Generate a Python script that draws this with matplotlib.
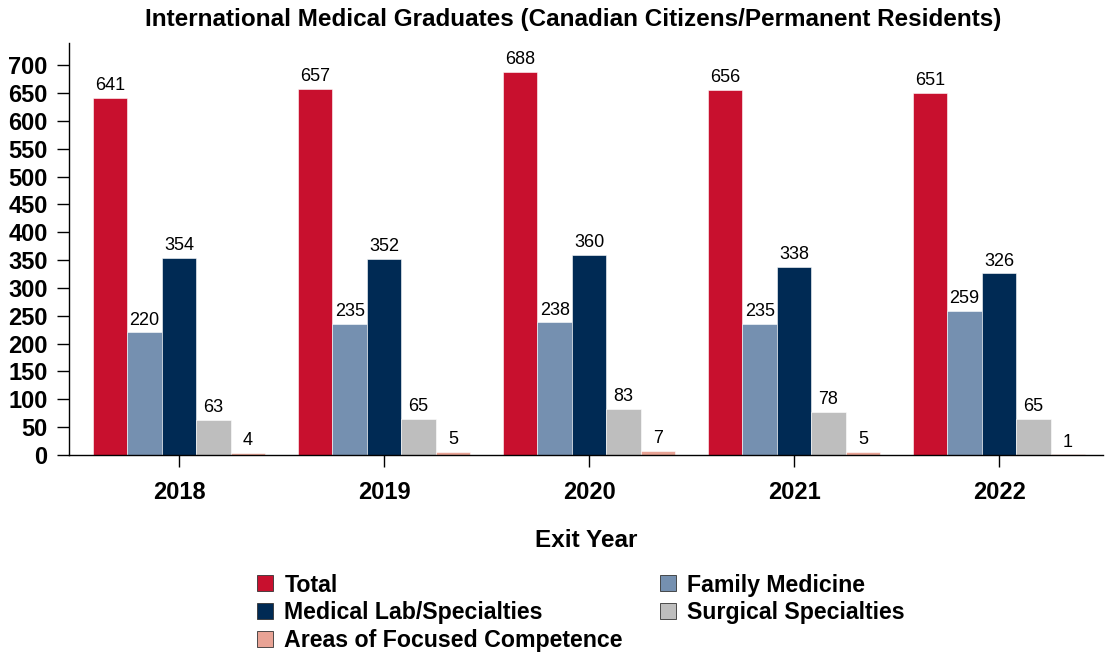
import matplotlib.pyplot as plt
from matplotlib.patches import Patch
import numpy as np

plt.rcParams['font.family'] = ['Liberation Sans', 'DejaVu Sans']

years = ["2018", "2019", "2020", "2021", "2022"]
series = ["Total", "Family Medicine", "Medical Lab/Specialties",
          "Surgical Specialties", "Areas of Focused Competence"]
total = [641, 657, 688, 656, 651]
family_med = [220, 235, 238, 235, 259]
medical_lab = [354, 352, 360, 338, 326]
surgical = [63, 65, 83, 78, 65]
afc = [4, 5, 7, 5, 1]
colors = ["#C8102E", "#7590B0", "#002A54", "#BEBEBE", "#E8A395"]

values = [total, family_med, medical_lab, surgical, afc]

fig = plt.figure(figsize=(11.1, 6.54), dpi=100)
ax = fig.add_axes([0.0622, 0.3043, 0.9315, 0.630])

x = np.arange(len(years))
width = 0.168
for i, (vals, col) in enumerate(zip(values, colors)):
    pos = x + (i - 2) * width
    bars = ax.bar(pos, vals, width, color=col, edgecolor="white", linewidth=0.4)
    for b, v in zip(bars, vals):
        ax.text(b.get_x() + b.get_width() / 2, v + 7, str(v),
                ha="center", va="bottom", fontsize=13)

ax.set_xlim(-0.537, 4.507)
ax.set_ylim(0, 740)
ax.set_yticks(range(0, 701, 50))
ax.set_xticks(x)
ax.set_xticklabels(years, fontsize=17, fontweight="bold")
for lab in ax.get_yticklabels():
    lab.set_fontsize(17)
    lab.set_fontweight("bold")
ax.tick_params(axis="y", length=8.5, width=1, pad=7)
ax.tick_params(axis="x", length=8.5, width=1, pad=10)
ax.spines["top"].set_visible(False)
ax.spines["right"].set_visible(False)
ax.spines["left"].set_linewidth(1)
ax.spines["bottom"].set_linewidth(1)

ax.set_xlabel("Exit Year", fontsize=17.5, fontweight="bold", labelpad=18)
ax.set_title("International Medical Graduates (Canadian Citizens/Permanent Residents)",
             fontsize=17.5, fontweight="bold", pad=12, x=0.488)

# legend laid out row by row: Total / Family Medicine, Medical Lab / Surgical, AFC
order = [0, 2, 4, 1, 3]
handles = [Patch(facecolor=colors[k], edgecolor="#333333", linewidth=0.6) for k in order]
labels = [series[k] for k in order]
fig.legend(handles, labels, loc="upper left", bbox_to_anchor=(0.2315, 0.123),
           ncol=2, frameon=False,
           prop={"weight": "bold", "size": 16.7},
           handlelength=0.68, handleheight=0.68, handletextpad=0.5,
           columnspacing=1.6, labelspacing=0.2, borderaxespad=0, borderpad=0)

fig.savefig("out.png", dpi=100)
